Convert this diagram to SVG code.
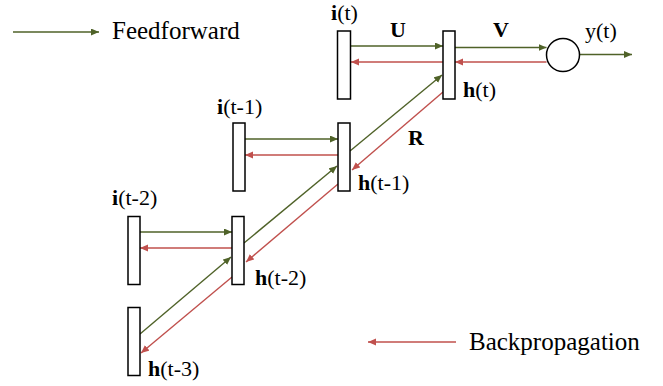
<svg xmlns="http://www.w3.org/2000/svg" width="663" height="386" viewBox="0 0 663 386">
<style>
.box{fill:#fff;stroke:#000;stroke-width:1.5}
.g{stroke:#4f6228;stroke-width:1.4;fill:none;marker-end:url(#ag)}
.r{stroke:#c0504d;stroke-width:1.4;fill:none;marker-end:url(#ar)}
text{font-family:'Liberation Serif','Times New Roman',serif;fill:#000}
.lbl{font-size:22px}
.leg{font-size:25px}
.b{font-weight:bold}
</style>
<defs>
<marker id="ag" markerUnits="userSpaceOnUse" markerWidth="10" markerHeight="8" refX="8" refY="3.5" orient="auto"><path d="M0,0 L8,3.5 L0,7 z" fill="#4f6228"/></marker>
<marker id="ar" markerUnits="userSpaceOnUse" markerWidth="10" markerHeight="8" refX="8" refY="3.5" orient="auto"><path d="M0,0 L8,3.5 L0,7 z" fill="#c0504d"/></marker>
</defs>
<g id="legend">
<line class="g" x1="13" y1="32" x2="99" y2="32"/>
<text class="leg" x="112" y="39">Feedforward</text>
<line class="r" x1="456" y1="342" x2="368" y2="342"/>
<text class="leg" x="469" y="350">Backpropagation</text>
</g>
<g id="connectors">
<line class="g" x1="351" y1="46" x2="443" y2="46"/>
<line class="r" x1="443" y1="62" x2="351" y2="62"/>
<line class="g" x1="455" y1="47.5" x2="546.5" y2="47.5"/>
<line class="r" x1="546.5" y1="62" x2="455" y2="62"/>
<line class="g" x1="579.5" y1="54.5" x2="632" y2="54.5"/>
<line class="g" x1="245" y1="139" x2="338" y2="139"/>
<line class="r" x1="338" y1="155" x2="245" y2="155"/>
<line class="g" x1="140" y1="232" x2="232" y2="232"/>
<line class="r" x1="232" y1="248" x2="140" y2="248"/>
<line class="g" x1="140" y1="334" x2="231" y2="257"/>
<line class="r" x1="232" y1="277" x2="141" y2="353"/>
<line class="g" x1="244" y1="243" x2="337" y2="166"/>
<line class="r" x1="338" y1="184" x2="246" y2="262"/>
<line class="g" x1="350" y1="151" x2="442" y2="75"/>
<line class="r" x1="443" y1="92" x2="352" y2="170"/>
</g>
<g id="i_t"><rect class="box" x="337.5" y="31" width="13" height="68"/><text class="lbl" x="331" y="20"><tspan class="b">i</tspan>(t)</text></g>
<g id="h_t"><rect class="box" x="443" y="31" width="12" height="68"/><text class="lbl" x="463" y="97"><tspan class="b">h</tspan>(t)</text></g>
<g id="y_t"><circle cx="563" cy="55" r="16.5" fill="#fff" stroke="#000" stroke-width="1.5"/><text class="lbl" x="585" y="38">y(t)</text></g>
<g id="i_t1"><rect class="box" x="233" y="123" width="12" height="68"/><text class="lbl" x="217" y="114"><tspan class="b">i</tspan>(t-1)</text></g>
<g id="h_t1"><rect class="box" x="338" y="123" width="12" height="68"/><text class="lbl" x="358" y="190"><tspan class="b">h</tspan>(t-1)</text></g>
<g id="i_t2"><rect class="box" x="128" y="216.5" width="12" height="68"/><text class="lbl" x="112" y="205"><tspan class="b">i</tspan>(t-2)</text></g>
<g id="h_t2"><rect class="box" x="232" y="216.5" width="12" height="68"/><text class="lbl" x="255" y="285"><tspan class="b">h</tspan>(t-2)</text></g>
<g id="h_t3"><rect class="box" x="128" y="307.5" width="12" height="68"/><text class="lbl" x="148" y="376"><tspan class="b">h</tspan>(t-3)</text></g>
<g id="weights">
<text class="lbl b" x="390" y="37">U</text>
<text class="lbl b" x="493" y="37">V</text>
<text class="lbl b" x="408" y="145">R</text>
</g>
</svg>
